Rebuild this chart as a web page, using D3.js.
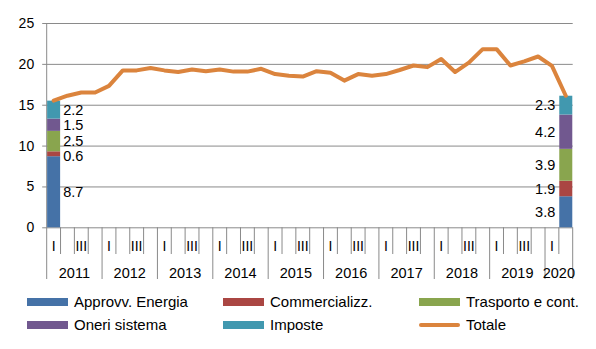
<!DOCTYPE html>
<html>
<head>
<meta charset="utf-8">
<script src="https://cdn.jsdelivr.net/npm/d3@7"></script>
<style>
  body { margin: 0; background: #fff; }
  svg { display: block; font-family: Helvetica, Arial, "Liberation Sans", sans-serif; }
</style>
</head>
<body>
<script>
// dati: prezzo totale trimestrale e composizione del primo e ultimo trimestre
var years = ['2011', '2012', '2013', '2014', '2015', '2016', '2017', '2018', '2019', '2020'];
var quarterNames = ['I', 'II', 'III', 'IV'];
var totale = [15.5, 16.1, 16.5, 16.5, 17.3, 19.2, 19.2, 19.5, 19.2, 19.0,
  19.3, 19.1, 19.3, 19.05, 19.05, 19.4, 18.75, 18.55, 18.45, 19.1,
  18.9, 17.95, 18.75, 18.55, 18.75, 19.25, 19.8, 19.6, 20.6, 19.0,
  20.15, 21.8, 21.8, 19.8, 20.3, 20.9, 19.75, 16.1];
var components = ['Approvv. Energia', 'Commercializz.', 'Trasporto e cont.', 'Oneri sistema', 'Imposte'];
var bar2011 = [8.7, 0.6, 2.5, 1.5, 2.2];
var bar2020 = [3.8, 1.9, 3.9, 4.2, 2.3];
var yTicks = [0, 5, 10, 15, 20, 25];

var colors = ['#4572a7', '#aa4643', '#89a54e', '#71588f', '#4198af'];
var lineColor = '#db843d';

var width = 596;
var height = 349;
var plot = { left: 46.7, right: 572.7, top: 23, bottom: 227.3 };

// elenco dei trimestri (2011 I ... 2020 II)
var periods = [];
years.forEach(function (yr) {
  quarterNames.forEach(function (q) {
    if (periods.length < totale.length) periods.push({ year: yr, q: q, key: yr + '-' + q });
  });
});

var svg = d3.select('body')
  .append('svg')
  .attr('width', width)
  .attr('height', height);

var x = d3.scaleBand()
  .domain(periods.map(function (d) { return d.key; }))
  .range([plot.left, plot.right])
  .paddingInner(0.06)
  .paddingOuter(0.03);

var xStep = (plot.right - plot.left) / periods.length;
function bandStart(i) { return plot.left + i * xStep; }

var y = d3.scaleLinear()
  .domain([0, 25])
  .range([plot.bottom, plot.top]);

// griglia orizzontale
svg.append('g')
  .attr('class', 'grid')
  .attr('transform', 'translate(' + plot.right + ',0)')
  .call(d3.axisLeft(y).tickValues(yTicks).tickSize(plot.right - plot.left + 4.5).tickFormat(''))
  .call(function (g) {
    g.select('.domain').remove();
    g.selectAll('line').attr('stroke', '#8a8a8a').attr('stroke-width', 1);
  });

// etichette asse y
svg.append('g')
  .attr('class', 'yaxis')
  .attr('transform', 'translate(' + (plot.left - 4.5) + ',0)')
  .call(d3.axisLeft(y).tickValues(yTicks).tickSize(0).tickPadding(8))
  .call(function (g) {
    g.select('.domain').remove();
    g.selectAll('text').attr('font-size', 14).attr('fill', '#000');
  });

// asse x: separatori dei trimestri e degli anni
var xg = svg.append('g').attr('class', 'xaxis');
d3.range(periods.length + 1).forEach(function (i) {
  var isYear = i === 0 || i === periods.length || (periods[i] && periods[i].q === 'I');
  xg.append('line')
    .attr('x1', bandStart(i)).attr('x2', bandStart(i))
    .attr('y1', i === 0 ? plot.top : plot.bottom)
    .attr('y2', isYear ? 279 : 254)
    .attr('stroke', '#8a8a8a')
    .attr('stroke-width', 1);
});

xg.selectAll('text.q')
  .data(periods.filter(function (d) { return d.q === 'I' || d.q === 'III'; }))
  .enter()
  .append('text')
  .attr('class', 'q')
  .attr('x', function (d) { return x(d.key) + x.bandwidth() / 2; })
  .attr('y', 251)
  .attr('text-anchor', 'middle')
  .attr('font-size', 14)
  .text(function (d) { return d.q; });

xg.selectAll('text.year')
  .data(years)
  .enter()
  .append('text')
  .attr('class', 'year')
  .attr('x', function (yr) {
    var idx = periods.map(function (d, i) { return d.year === yr ? i : -1; }).filter(function (i) { return i >= 0; });
    return (bandStart(idx[0]) + bandStart(idx[idx.length - 1] + 1)) / 2;
  })
  .attr('y', 278)
  .attr('text-anchor', 'middle')
  .attr('font-size', 14.5)
  .text(function (yr) { return yr; });

// barre impilate del primo e dell'ultimo trimestre
function stackBar(values, key, labelSide) {
  var acc = 0;
  var segs = values.map(function (v, i) {
    var s = { y0: acc, y1: acc + v, v: v, i: i };
    acc += v;
    s.ly = y((s.y0 + s.y1) / 2);
    return s;
  });
  // le etichette troppo vicine vengono spinte verso il basso
  for (var k = segs.length - 2; k >= 0; k--) {
    if (segs[k].ly - segs[k + 1].ly < 15) segs[k].ly = segs[k + 1].ly + 15;
  }
  var g = svg.append('g');
  g.selectAll('rect')
    .data(segs)
    .enter()
    .append('rect')
    .attr('x', x(key))
    .attr('width', x.bandwidth())
    .attr('y', function (d) { return y(d.y1); })
    .attr('height', function (d) { return y(d.y0) - y(d.y1); })
    .attr('fill', function (d) { return colors[d.i]; });
  g.selectAll('text')
    .data(segs)
    .enter()
    .append('text')
    .attr('x', labelSide === 'right' ? x(key) + x.bandwidth() + 3 : x(key) - 4)
    .attr('y', function (d) { return d.ly; })
    .attr('dy', '0.35em')
    .attr('text-anchor', labelSide === 'right' ? 'start' : 'end')
    .attr('font-size', 14.5)
    .text(function (d) { return d3.format('.1f')(d.v); });
}
stackBar(bar2011, periods[0].key, 'right');
stackBar(bar2020, periods[periods.length - 1].key, 'left');

// linea del totale
var linePath = d3.line()
  .x(function (d, i) { return x(periods[i].key) + x.bandwidth() / 2; })
  .y(function (d) { return y(d); });

svg.append('path')
  .attr('d', linePath(totale))
  .attr('fill', 'none')
  .attr('stroke', lineColor)
  .attr('stroke-width', 4)
  .attr('stroke-linejoin', 'round')
  .attr('stroke-linecap', 'round');

// legenda
var legendItems = components.map(function (c, i) { return { name: c, color: colors[i], line: false }; });
legendItems.push({ name: 'Totale', color: lineColor, line: true });
var colX = [27, 223, 419];
var rowY = [302, 325];
var lg = svg.append('g').attr('class', 'legend');
legendItems.forEach(function (d, i) {
  var cx = colX[i % 3], cy = rowY[Math.floor(i / 3)];
  if (d.line) {
    lg.append('line')
      .attr('x1', cx + 2).attr('x2', cx + 39)
      .attr('y1', cy).attr('y2', cy)
      .attr('stroke', d.color).attr('stroke-width', 4).attr('stroke-linecap', 'round');
  } else {
    lg.append('rect')
      .attr('x', cx).attr('y', cy - 4)
      .attr('width', 41).attr('height', 8)
      .attr('fill', d.color);
  }
  lg.append('text')
    .attr('x', cx + 47)
    .attr('y', cy)
    .attr('dy', '0.35em')
    .attr('font-size', 15)
    .text(d.name);
});
</script>
</body>
</html>
